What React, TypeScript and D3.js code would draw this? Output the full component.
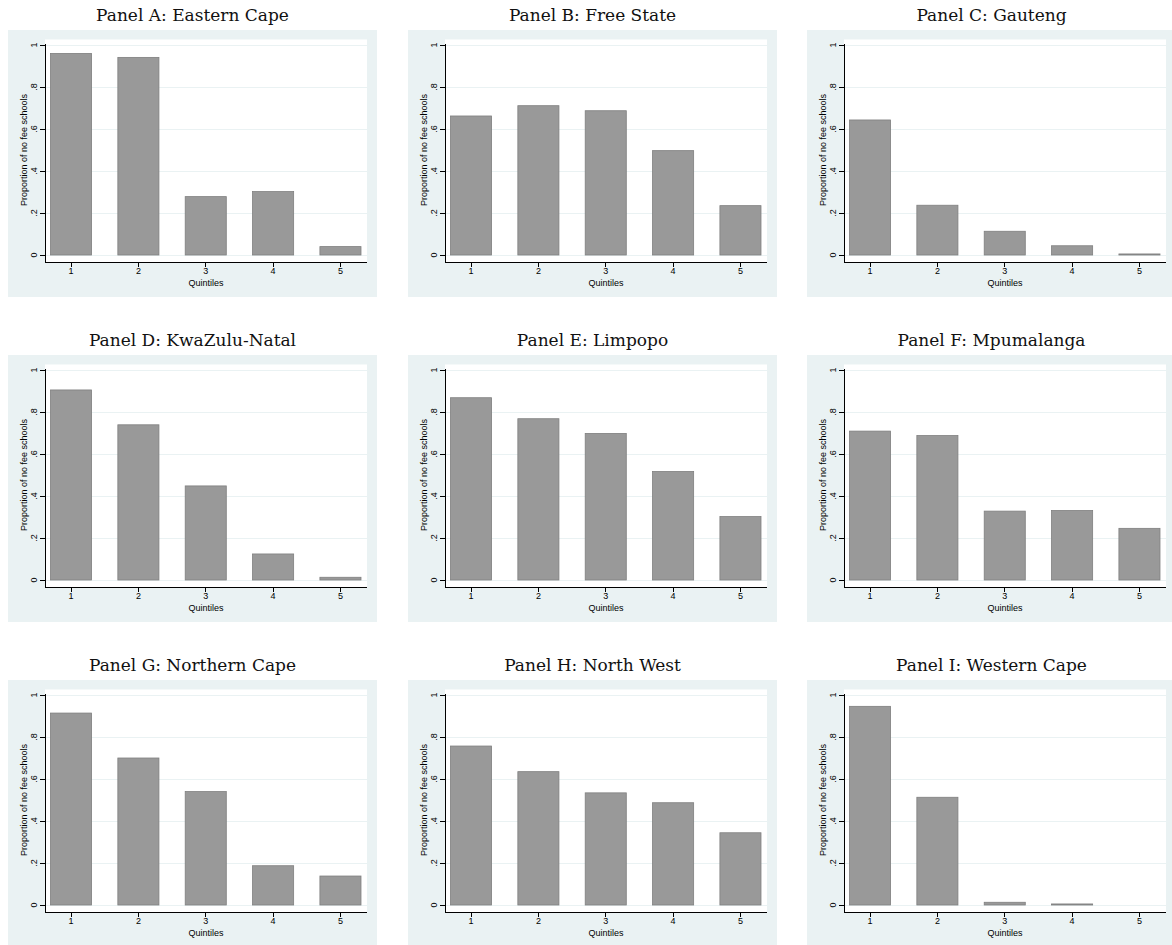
import React from 'react';
import * as d3 from 'd3';

// quintile categories and y-axis ticks
const quintiles = [1, 2, 3, 4, 5];
const yTicks = [0, 0.2, 0.4, 0.6, 0.8, 1];
const yTickLabels = ['0', '.2', '.4', '.6', '.8', '1'];

// proportion of no fee schools by quintile, per province
const easternCape = [0.96, 0.941, 0.278, 0.302, 0.04];
const freeState = [0.662, 0.711, 0.687, 0.497, 0.235];
const gauteng = [0.643, 0.237, 0.113, 0.044, 0.005];
const kwaZuluNatal = [0.905, 0.739, 0.448, 0.124, 0.013];
const limpopo = [0.868, 0.768, 0.698, 0.517, 0.302];
const mpumalanga = [0.709, 0.688, 0.328, 0.331, 0.246];
const northernCape = [0.914, 0.7, 0.54, 0.187, 0.138];
const northWest = [0.757, 0.635, 0.534, 0.487, 0.344];
const westernCape = [0.946, 0.513, 0.013, 0.005, 0];

const panelTitles = [
  'Panel A: Eastern Cape',
  'Panel B: Free State',
  'Panel C: Gauteng',
  'Panel D: KwaZulu-Natal',
  'Panel E: Limpopo',
  'Panel F: Mpumalanga',
  'Panel G: Northern Cape',
  'Panel H: North West',
  'Panel I: Western Cape',
];
const panelValues = [
  easternCape, freeState, gauteng,
  kwaZuluNatal, limpopo, mpumalanga,
  northernCape, northWest, westernCape,
];

const W = 1172;
const H = 945;
const PW = 369;
const PH = 267;
const colX = [8, 408, 807];
const rowY = [30, 355, 680];

const BG = '#EAF2F3';
const SANS = 'Liberation Sans, Arial, sans-serif';
const SERIF = 'DejaVu Serif, serif';

function Panel({ title, values, x, y }: { title: string; values: number[]; x: number; y: number }) {
  const axisX = 37;
  const plotR = 359;
  const plotT = 9.5;
  const axisY = 232;

  const yScale = d3.scaleLinear().domain([0, 1]).range([225, 15]);
  const xScale = d3
    .scaleBand<number>()
    .domain(quintiles)
    .range([42.5, 353])
    .paddingInner(0.39)
    .paddingOuter(0);

  return (
    <g transform={`translate(${x},${y})`}>
      <text x={PW / 2} y={-9} textAnchor="middle" fontFamily={SERIF} fontSize={17} fill="#111">
        {title}
      </text>
      <rect width={PW} height={PH} fill={BG} />
      <rect x={axisX} y={plotT} width={plotR - axisX} height={axisY - plotT} fill="#fff" />

      {yTicks.map((t) => (
        <line
          key={'g' + t}
          x1={axisX}
          x2={plotR}
          y1={yScale(t)}
          y2={yScale(t)}
          stroke={BG}
          strokeWidth={1}
          shapeRendering="crispEdges"
        />
      ))}

      {values.map((v, i) =>
        v > 0 ? (
          <rect
            key={i}
            x={xScale(quintiles[i])}
            y={yScale(v)}
            width={xScale.bandwidth()}
            height={yScale(0) - yScale(v)}
            fill="#999999"
            stroke="#7f7f7f"
            strokeWidth={0.8}
          />
        ) : null
      )}

      {/* axes */}
      <line x1={axisX} x2={axisX} y1={yScale(1) - 1} y2={axisY} stroke="#000" strokeWidth={1} shapeRendering="crispEdges" />
      <line x1={axisX} x2={plotR} y1={axisY} y2={axisY} stroke="#000" strokeWidth={1} shapeRendering="crispEdges" />

      {yTicks.map((t, i) => (
        <g key={'y' + t}>
          <line x1={axisX - 5} x2={axisX} y1={yScale(t)} y2={yScale(t)} stroke="#000" strokeWidth={1} shapeRendering="crispEdges" />
          <text
            transform={`translate(${axisX - 8},${yScale(t)}) rotate(-90)`}
            textAnchor="middle"
            fontFamily={SANS}
            fontSize={9}
            fill="#000"
          >
            {yTickLabels[i]}
          </text>
        </g>
      ))}
      <text
        transform={`translate(${axisX - 18.5},${(yScale(0) + yScale(1)) / 2}) rotate(-90)`}
        textAnchor="middle"
        fontFamily={SANS}
        fontSize={9}
        fill="#000"
      >
        Proportion of no fee schools
      </text>

      {quintiles.map((q) => {
        const cx = (xScale(q) as number) + xScale.bandwidth() / 2;
        return (
          <g key={'x' + q}>
            <line x1={cx} x2={cx} y1={axisY} y2={axisY + 5} stroke="#000" strokeWidth={1} shapeRendering="crispEdges" />
            <text x={cx} y={axisY + 12} textAnchor="middle" fontFamily={SANS} fontSize={9} fill="#000">
              {q}
            </text>
          </g>
        );
      })}
      <text x={(axisX + plotR) / 2} y={axisY + 23.5} textAnchor="middle" fontFamily={SANS} fontSize={9} fill="#000">
        Quintiles
      </text>
    </g>
  );
}

export default function App() {
  return (
    <div style={{ position: 'absolute', left: 0, top: 0 }}>
      <svg width={W} height={H} style={{ display: 'block', background: '#fff' }}>
        {panelTitles.map((t, i) => (
          <Panel key={t} title={t} values={panelValues[i]} x={colX[i % 3]} y={rowY[Math.floor(i / 3)]} />
        ))}
      </svg>
    </div>
  );
}
